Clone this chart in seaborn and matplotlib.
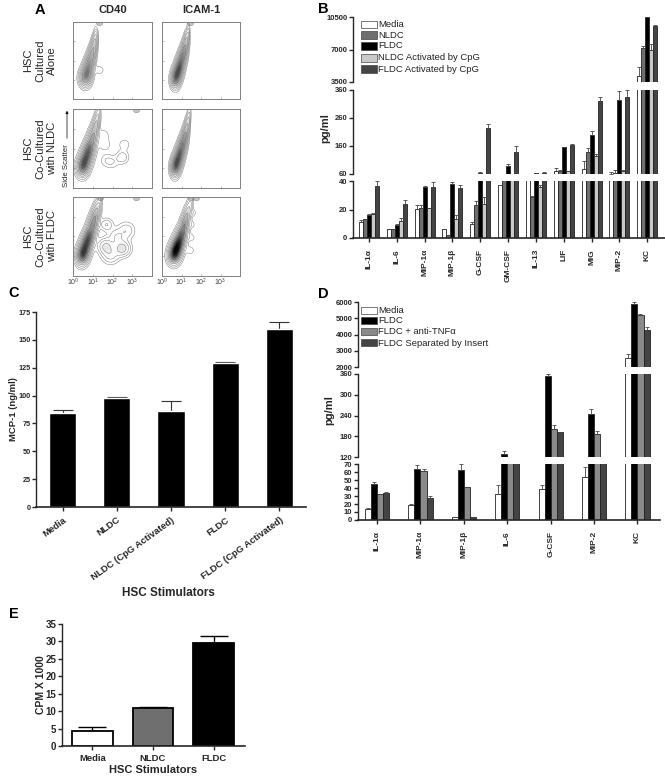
import numpy as np
import pandas as pd
import matplotlib
matplotlib.use('Agg')
import matplotlib.pyplot as plt
from matplotlib.patches import Rectangle
import seaborn as sns

sns.set_style('ticks')
plt.rcParams['font.family'] = ['Liberation Sans', 'DejaVu Sans']
plt.rcParams['mathtext.fontset'] = 'custom'
plt.rcParams['mathtext.rm'] = 'Liberation Sans'
plt.rcParams['mathtext.bf'] = 'Liberation Sans:bold'

W, H = 665, 778

# -------------------- PANEL A: density ridges (decades) --------------------
flow_titles = ['CD40', 'ICAM-1']
flow_rows = ['HSC\nCultured\nAlone', 'HSC\nCo-Cultured\nwith NLDC', 'HSC\nCo-Cultured\nwith FLDC']
flow_ticks = ['10$^0$', '10$^1$', '10$^2$', '10$^3$']

# centre x, centre y, spread x, weight along each ridge
r1 = ([0.62, 0.74, 0.86, 0.98, 1.08, 1.16], [1.10, 1.50, 1.95, 2.40, 2.85, 3.25],
      [0.17, 0.15, 0.13, 0.11, 0.09, 0.07], [6, 6, 5, 4, 3, 1.5])
r2 = ([0.68, 0.80, 0.92, 1.05, 1.17, 1.27, 1.35], [1.00, 1.35, 1.75, 2.20, 2.65, 3.10, 3.50],
      [0.14, 0.14, 0.13, 0.12, 0.10, 0.08, 0.05], [7, 8, 8, 7, 5.5, 3.5, 1.5])
r3 = ([0.46, 0.58, 0.72, 0.86, 1.00, 1.12, 1.22, 1.30], [0.98, 1.30, 1.70, 2.10, 2.60, 3.05, 3.45, 3.85],
      [0.18, 0.18, 0.17, 0.16, 0.14, 0.11, 0.09, 0.07], [7, 9, 9, 8, 6, 4.5, 3, 1.5])
r4 = ([0.66, 0.78, 0.92, 1.06, 1.18, 1.28, 1.36, 1.42], [1.00, 1.35, 1.75, 2.20, 2.65, 3.10, 3.50, 3.85],
      [0.14, 0.14, 0.13, 0.12, 0.10, 0.08, 0.06, 0.05], [7, 8, 8, 7, 5.5, 3.5, 1.8, 0.8])
r5 = ([0.44, 0.56, 0.70, 0.85, 1.00, 1.12, 1.24, 1.36], [0.95, 1.28, 1.70, 2.10, 2.60, 3.05, 3.45, 3.85],
      [0.18, 0.18, 0.17, 0.16, 0.15, 0.13, 0.11, 0.08], [7, 9, 9, 8, 6.5, 5, 3, 1.5])
r6 = ([0.60, 0.72, 0.86, 1.02, 1.16, 1.28, 1.40, 1.50], [1.00, 1.32, 1.70, 2.15, 2.65, 3.10, 3.50, 3.85],
      [0.19, 0.19, 0.18, 0.16, 0.13, 0.11, 0.09, 0.07], [9, 11, 11, 9, 7, 4.5, 2.5, 1.2])
flow_ridges = [r1, r2, r3, r4, r5, r6]

# side populations: centre x, centre y, spread, weight
lobe1 = ([1.35], [1.50], [0.15], [0.5])
lobe3 = ([2.50, 2.60, 1.70, 1.60, 2.00, 1.55], [1.55, 2.20, 1.40, 2.20, 1.30, 2.70],
         [0.20, 0.22, 0.22, 0.22, 0.22, 0.20], [1.6, 0.7, 0.8, 0.8, 0.7, 0.7])
lobe5 = ([2.50, 1.65, 1.90, 2.70, 1.70, 2.20], [1.40, 1.50, 1.05, 2.30, 2.60, 2.00],
         [0.25, 0.25, 0.27, 0.27, 0.20, 0.25], [3.5, 3, 2, 1.5, 1.7, 1.5])
lobe6 = ([1.45, 1.50, 1.50, 1.55], [1.30, 1.95, 2.60, 3.20], [0.14, 0.14, 0.14, 0.14], [1.0, 0.9, 0.9, 1.0])
flow_lobes = [lobe1, None, lobe3, None, lobe5, lobe6]

# events piled up at the top edge
flow_cap_x = [[1.32], [1.45], [3.2], [], [1.35, 3.2], [1.5, 1.75]]
flow_cap_y = [[4.0], [4.0], [4.0], [], [4.0, 4.0], [4.0, 4.0]]

flow_dark = [0.55, 0.72, 0.72, 0.72, 0.8, 1.0]

# -------------------- PANEL B --------------------
b_cyto = ['IL-1α', 'IL-6', 'MIP-1α', 'MIP-1β', 'G-CSF', 'GM-CSF', 'IL-13', 'LIF', 'MIG', 'MIP-2', 'KC']
b_groups = ['Media', 'NLDC', 'FLDC', 'NLDC Activated by CpG', 'FLDC Activated by CpG']
b_media = [11.5, 6, 20.5, 6, 10, 37, 45, 72, 78, 61, 4100]
b_nldc = [13, 6, 21, 2, 23, 55, 29, 70, 140, 65, 7200]
b_fldc = [16, 9, 36, 38, 65, 90, 64, 155, 198, 325, 10500]
b_ncpg = [17, 12, 21, 13, 24, 55, 36, 70, 125, 72, 7000]
b_fcpg = [36.5, 24, 36, 35, 225, 140, 64, 165, 320, 335, 9500]
b_err_media = [1, 0.5, 2.5, 0.3, 1, 0.5, 0, 10, 30, 5, 1000]
b_err_nldc = [0.3, 0.3, 2, 0, 3, 0, 0.3, 3, 12, 8, 150]
b_err_fldc = [0.5, 0.5, 0.3, 1.5, 3, 5, 1, 2, 15, 30, 50]
b_err_ncpg = [0.3, 2, 0.3, 3, 5, 0, 1.5, 0, 6, 1, 600]
b_err_fcpg = [3.5, 2.5, 3.5, 2, 15, 20, 3, 1, 15, 25, 100]
b_colors = ['white', '#6f6f6f', 'black', '#c9c9c9', '#444444']

# -------------------- PANEL D --------------------
d_cyto = ['IL-1α', 'MIP-1α', 'MIP-1β', 'IL-6', 'G-CSF', 'MIP-2', 'KC']
d_groups = ['Media', 'FLDC', 'FLDC + anti-TNFα', 'FLDC Separated by Insert']
d_media = [14, 19, 4, 32, 39, 54, 2550]
d_fldc = [45, 64, 63, 130, 355, 245, 5900]
d_anti = [32, 61.5, 41, 90, 200, 186, 5200]
d_insert = [34, 27, 4, 90, 192, 90, 4300]
d_err_media = [1, 0.5, 0.2, 12, 5, 12, 280]
d_err_fldc = [2.5, 5, 7, 6, 5, 15, 80]
d_err_anti = [1, 2, 0.5, 0, 12, 10, 80]
d_err_insert = [0.5, 3, 0.3, 0, 1, 0, 170]
d_colors = ['white', 'black', '#8a8a8a', '#444444']

# -------------------- PANELS C, E --------------------
c_labels = ['Media', 'NLDC', 'NLDC (CpG Activated)', 'FLDC', 'FLDC (CpG Activated)']
c_values = [84.5, 97.5, 86, 129, 160]
c_err = [2.5, 1, 9.5, 1.5, 6]

e_labels = ['Media', 'NLDC', 'FLDC']
e_values = [4.3, 11, 29.5]
e_err = [1.2, 0.2, 2.1]
e_colors = ['white', '#6f6f6f', 'black']

fig = plt.figure(figsize=(W / 100, H / 100), dpi=100)


def px_axes(x0, x1, y_top, y_bot):
    # axes placed by pixel box, y counted from the top of the image
    ax = fig.add_axes([x0 / W, 1 - y_bot / H, (x1 - x0) / W, (y_bot - y_top) / H])
    ax.patch.set_alpha(0)
    return ax


def px_text(x, y, s, **kw):
    kw.setdefault('ha', 'center')
    kw.setdefault('va', 'center')
    fig.text(x / W, 1 - y / H, s, **kw)


def flow_density(ridge, lobe, xx, yy):
    # sum of soft blobs, one for each point
    z = np.zeros_like(xx)
    for cx, cy, sx, w in zip(*ridge):
        z += w * np.exp(-(xx - cx) ** 2 / (2 * sx ** 2) - (yy - cy) ** 2 / (2 * 0.27 ** 2))
    if lobe is not None:
        for cx, cy, s, w in zip(*lobe):
            z += w * np.exp(-((xx - cx) ** 2 + (yy - cy) ** 2) / (2 * s ** 2))
    return z / z.max()


# panel letters
for letter, x, y in [('A', 40, 10), ('B', 323, 9), ('C', 14, 293), ('D', 323, 294), ('E', 14, 614)]:
    px_text(x, y, letter, fontsize=10.5, fontweight='bold', color='black')

# -------------------- A --------------------
flow_x = [(73, 152), (162, 240)]
flow_y = [(22, 99), (109, 188), (197, 276)]
xx, yy = np.meshgrid(np.linspace(0, 4, 200), np.linspace(0, 4, 200))
for i, ridge in enumerate(flow_ridges):
    row, col = i // 2, i % 2
    ax = px_axes(flow_x[col][0], flow_x[col][1], flow_y[row][0], flow_y[row][1])
    zz = flow_density(ridge, flow_lobes[i], xx, yy)
    grey_map = sns.blend_palette(['white', (1 - flow_dark[i],) * 3], as_cmap=True)
    ax.contourf(xx, yy, zz, levels=np.linspace(0.15, 1, 20), cmap=grey_map, extend='neither')
    ax.contour(xx, yy, zz, levels=[0.03, 0.065, 0.12, 0.2, 0.32, 0.5], colors='#666666', linewidths=0.3)
    if flow_cap_x[i]:
        sns.scatterplot(x=flow_cap_x[i], y=flow_cap_y[i], ax=ax, s=22, color='#c4c4c4',
                        edgecolor='#777777', linewidth=0.3, legend=False)
    ax.set_xlim(0, 4)
    ax.set_ylim(0, 4)
    ax.set_xticks(range(1, 4))
    ax.set_yticks(range(1, 4))
    ax.tick_params(length=1.5, width=0.4, direction='in', labelbottom=False, labelleft=False,
                   color='#888888')
    for s in ax.spines.values():
        s.set_color('#808080')
        s.set_linewidth(0.7)
    if row == 2:
        for k, t in enumerate(flow_ticks):
            ax.text(k, -0.33, t, ha='center', va='center', fontsize=5, color='#444444', clip_on=False)
    if row == 0:
        ax.set_title(flow_titles[col], fontsize=8, fontweight='bold', pad=6.5)

for (y0, y1), label in zip(flow_y, flow_rows):
    px_text(40, (y0 + y1) / 2, label, rotation=90, fontsize=8, linespacing=1.2, multialignment='center')

px_text(67, 166, 'Side Scatter', rotation=90, fontsize=5.6, color='#222222')
fig.add_artist(plt.Annotation('', xy=(67 / W, 1 - 108 / H), xytext=(67 / W, 1 - 141 / H),
                              xycoords='figure fraction', textcoords='figure fraction',
                              arrowprops=dict(arrowstyle='-|>', lw=0.5, color='black', mutation_scale=4)))


def style_left(ax, ticks, labels, fs=5.5, bold=True):
    ax.set_yticks(ticks)
    ax.set_yticklabels(labels, fontsize=fs, fontweight='bold' if bold else 'normal')
    ax.tick_params(axis='y', length=3, width=1, pad=1)
    ax.spines['left'].set_linewidth(1)
    ax.spines['top'].set_visible(False)
    ax.spines['right'].set_visible(False)


def broken_bars(names, groups, series, errs, colors, x_box, segs, xlim, barw, err_lw):
    # three stacked axes showing the same bars through different y windows
    df = pd.DataFrame({'cyto': np.repeat(names, len(groups)),
                       'group': groups * len(names),
                       'value': np.array(series).T.ravel()})
    axes = []
    for k, (top, bot, ylo, yhi, ticks, labs) in enumerate(segs):
        ax = px_axes(x_box[0], x_box[1], top, bot)
        sns.barplot(data=df, x='cyto', y='value', hue='group', hue_order=groups, palette=colors,
                    order=names, width=barw * len(groups), gap=0, saturation=1, legend=False,
                    edgecolor='#222222', linewidth=0.6, errorbar=None, ax=ax)
        for cont, vals, er in zip(ax.containers, series, errs):
            xs = [p.get_x() + p.get_width() / 2 for p in cont.patches]
            ax.errorbar(xs, vals, yerr=[np.zeros(len(er)), er], fmt='none', ecolor='#444444',
                        elinewidth=err_lw, capsize=1.4, capthick=err_lw, zorder=4)
        ax.set_xlim(*xlim)
        ax.set_ylim(ylo, yhi)
        ax.set_xlabel('')
        ax.set_ylabel('')
        style_left(ax, ticks, labs)
        ax.spines['bottom'].set_visible(k == 2)
        if k == 2:
            ax.spines['bottom'].set_linewidth(1.2)
            ax.set_xticks(range(len(names)))
            ax.set_xticklabels(names, rotation=90, fontsize=6, fontweight='bold', family=['Liberation Sans', 'DejaVu Sans'])
            ax.tick_params(axis='x', length=3, width=1, pad=5)
        else:
            ax.tick_params(axis='x', bottom=False, labelbottom=False)
        axes.append(ax)
    return axes


def legend_px(x_swatch, y_rows, groups, colors, sw_w=16, sw_h=7, fs=6.8):
    for y, g, c in zip(y_rows, groups, colors):
        fig.add_artist(Rectangle((x_swatch / W, 1 - (y + sw_h / 2) / H), sw_w / W, sw_h / H,
                                 transform=fig.transFigure, facecolor=c, edgecolor='#444444', lw=0.5))
        fig.text((x_swatch + sw_w + 1) / W, 1 - y / H, g, fontsize=fs, va='center', ha='left', color='#222222')


# -------------------- B --------------------
b_segs = [(17, 82, 3500, 10500, [3500, 7000, 10500], ['3500', '7000', '10500']),
          (90, 174, 60, 360, [60, 160, 260, 360], ['60', '160', '260', '360']),
          (181, 238, 0, 40, [0, 20, 40], ['0', '20', '40'])]
broken_bars(b_cyto, b_groups, [b_media, b_nldc, b_fldc, b_ncpg, b_fcpg],
            [b_err_media, b_err_nldc, b_err_fldc, b_err_ncpg, b_err_fcpg],
            b_colors, (353, 665), b_segs, (-0.575, 10.64), 0.144, 0.6)
legend_px(361, [24.5, 35, 46, 58, 69], b_groups, b_colors)
px_text(325, 128, 'pg/ml', rotation=90, fontsize=8, fontweight='bold')

# -------------------- D --------------------
d_segs = [(302, 367, 2000, 6000, [2000, 3000, 4000, 5000, 6000], ['2000', '3000', '4000', '5000', '6000']),
          (374, 457, 120, 360, [120, 180, 240, 300, 360], ['120', '180', '240', '300', '360']),
          (464, 520, 0, 70, list(range(0, 71, 10)), [str(v) for v in range(0, 71, 10)])]
broken_bars(d_cyto, d_groups, [d_media, d_fldc, d_anti, d_insert],
            [d_err_media, d_err_fldc, d_err_anti, d_err_insert],
            d_colors, (358, 660), d_segs, (-0.44, 6.52), 0.14, 0.6)
legend_px(361, [310, 320, 332, 343], d_groups, d_colors)
px_text(329, 410, 'pg/ml', rotation=90, fontsize=8, fontweight='bold')

# -------------------- C --------------------
ax = px_axes(36, 306, 312, 507)
df = pd.DataFrame({'stim': c_labels, 'value': c_values})
sns.barplot(data=df, x='stim', y='value', color='black', saturation=1, width=0.5, errorbar=None, ax=ax)
ax.errorbar(range(5), c_values, yerr=[np.zeros(5), c_err], fmt='none', ecolor='#333333',
            elinewidth=0.8, capsize=7, capthick=0.8, zorder=0)
ax.set_xlim(-0.49, 4.49)
ax.set_ylim(0, 175)
style_left(ax, range(0, 176, 25), [str(v) for v in range(0, 176, 25)], fs=5.2)
ax.spines['bottom'].set_linewidth(1.2)
ax.set_xticks(range(5))
ax.set_xticklabels(c_labels, rotation=36, ha='right', rotation_mode='anchor', fontsize=6.8, fontweight='bold')
ax.tick_params(axis='x', length=3, width=1, pad=3)
ax.set_xlabel('')
ax.set_ylabel('MCP-1 (ng/ml)', fontsize=6.8, fontweight='bold', labelpad=0)
px_text(168, 593, 'HSC Stimulators', fontsize=8.5, fontweight='bold')

# -------------------- E --------------------
ax = px_axes(62, 245, 624, 746)
df = pd.DataFrame({'stim': e_labels, 'value': e_values})
sns.barplot(data=df, x='stim', y='value', hue='stim', palette=e_colors, legend=False, saturation=1, width=0.67,
            edgecolor='black', linewidth=1.3, errorbar=None, ax=ax)
ax.errorbar(range(3), e_values, yerr=[np.zeros(3), e_err], fmt='none', ecolor='black',
            elinewidth=1, capsize=10, capthick=1, zorder=0)
ax.set_xlim(-0.5, 2.515)
ax.set_ylim(0, 35)
style_left(ax, range(0, 36, 5), [str(v) for v in range(0, 36, 5)], fs=7)
ax.spines['bottom'].set_linewidth(1.2)
ax.set_xticks(range(3))
ax.set_xticklabels(e_labels, fontsize=6.8, fontweight='bold')
ax.tick_params(axis='x', length=3, width=1, pad=3)
ax.set_xlabel('')
ax.set_ylabel('CPM X 1000', fontsize=7.5, fontweight='bold', labelpad=0)
px_text(153, 770, 'HSC Stimulators', fontsize=8, fontweight='bold')

fig.savefig('out.png', dpi=100)
